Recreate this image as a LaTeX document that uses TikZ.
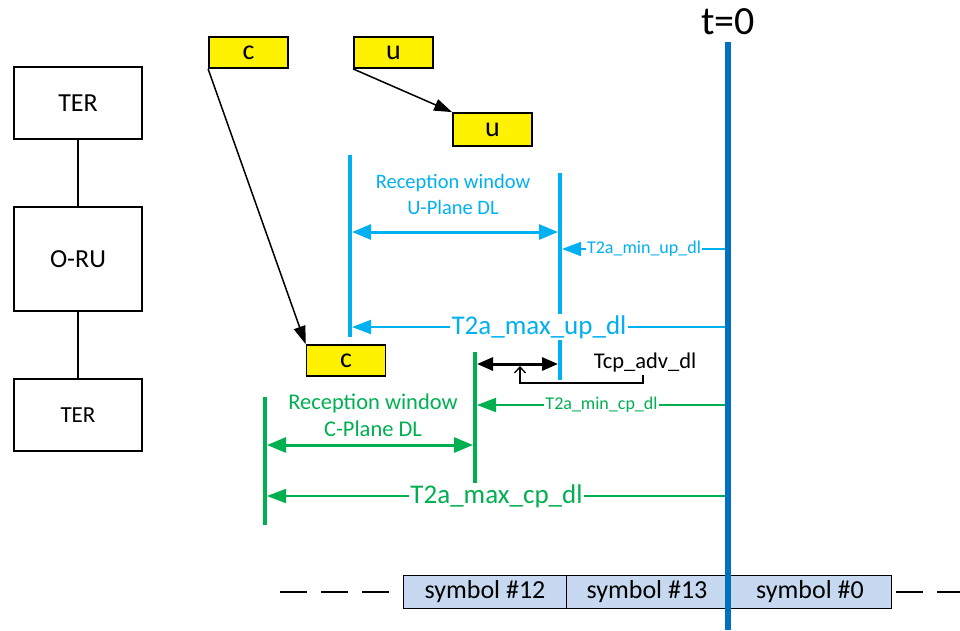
\documentclass[tikz,border=0pt]{standalone}
\usepackage{fontspec}
\setmainfont{Carlito}
\usetikzlibrary{arrows.meta}
\definecolor{ublue}{HTML}{00B0F0}
\definecolor{cgreen}{HTML}{00B050}
\definecolor{tblue}{HTML}{0070C0}
\definecolor{symfill}{HTML}{C6D9F1}
\newcommand{\fsz}[2]{\fontsize{#1}{#2}\selectfont}
\begin{document}
\begin{tikzpicture}[x=1pt,y=-1pt,
  blkbox/.style={draw, line width=1.8pt, minimum width=128pt, inner sep=0pt, font=\fsz{26}{30}},
  ybox/.style={draw, fill=yellow, line width=1.8pt, minimum width=79pt, minimum height=31pt, inner sep=0pt, font=\fsz{28}{30}},
  symbox/.style={draw, fill=symfill, line width=1.5pt, minimum height=33pt, inner sep=0pt, font=\fsz{26}{30}},
  vbar/.style={line width=4pt},
  spanarr/.style={line width=3pt, {Triangle[length=19pt,width=15pt]}-{Triangle[length=19pt,width=15pt]}},
  meas/.style={line width=2pt, -{Triangle[length=19pt,width=14pt]}},
  lab/.style={fill=white, inner sep=1.5pt},
  conn/.style={line width=1.5pt, -{Triangle[length=18pt,width=12pt]}}
]
\useasboundingbox (0,0) rectangle (960,630);

% left column
\node[blkbox, minimum height=72pt] (ter1) at (78,103) {TER};
\node[blkbox, minimum height=104pt] (oru) at (78,259) {O-RU};
\node[blkbox, minimum height=72pt, font=\fsz{23}{27}] (ter2) at (78,415) {TER};
\draw[line width=1.8pt] (ter1) -- (oru);
\draw[line width=1.8pt] (oru) -- (ter2);

% yellow boxes
\node[ybox] (c1) at (248.5,52.5) {c};
\node[ybox] (u1) at (393.5,52.5) {u};
\node[ybox, minimum height=33pt] (u2) at (492.5,129.5) {u};
\node[ybox] (c2) at (346,360.5) {c};
\draw[conn] (c1.south west) -- (c2.north west);
\draw[conn] (u1.south west) -- (u2.north west);

% coordinates
\coordinate (uLtop) at (350,155); \coordinate (uLbot) at (350,337);
\coordinate (uRtop) at (560,173); \coordinate (uRbot) at (560,380);
\coordinate (gRtop) at (475,352); \coordinate (gRbot) at (475,483);
\coordinate (gLtop) at (265,397); \coordinate (gLbot) at (265,525);
\coordinate (ttop) at (728,42); \coordinate (tbot) at (728,630);

% U-plane
\draw[vbar, ublue] (uLtop) -- (uLbot);
\draw[vbar, ublue] (uRtop) -- (uRbot);
\coordinate (uwL) at (352,232); \coordinate (uwR) at (558,232);
\draw[spanarr, ublue] (uwL) -- (uwR);
\node[font=\fsz{20.5}{26}, text=ublue, align=center] (uwin) at (453,194) {Reception window\\U-Plane DL};
\coordinate (tmu) at (726,249); \coordinate (umu) at (562,249);
\draw[meas, ublue] (tmu) -- node[lab, font=\fsz{18}{20}, text=ublue] (lminup) {T2a\_min\_up\_dl} (umu);
\coordinate (tMu) at (726,327); \coordinate (uMu) at (352,327);
\draw[meas, ublue] (tMu) -- node[lab, font=\fsz{27}{30}, text=ublue] (lmaxup) {T2a\_max\_up\_dl} (uMu);

% C-plane
\draw[vbar, cgreen] (gRtop) -- (gRbot);
\draw[vbar, cgreen] (gLtop) -- (gLbot);
\coordinate (cwL) at (267,445); \coordinate (cwR) at (473,445);
\draw[spanarr, cgreen] (cwL) -- (cwR);
\node[font=\fsz{22.5}{27}, text=cgreen, align=center] (cwin) at (373,415) {Reception window\\C-Plane DL};
\coordinate (tmc) at (726,405); \coordinate (cmc) at (477,405);
\draw[meas, cgreen] (tmc) -- node[lab, font=\fsz{18}{20}, text=cgreen] (lmincp) {T2a\_min\_cp\_dl} (cmc);
\coordinate (tMc) at (726,496); \coordinate (cMc) at (267,496);
\draw[meas, cgreen] (tMc) -- node[lab, font=\fsz{27}{30}, text=cgreen] (lmaxcp) {T2a\_max\_cp\_dl} (cMc);

% Tcp_adv_dl
\coordinate (tcL) at (477,364); \coordinate (tcR) at (558,364);
\draw[line width=3pt, {Triangle[length=16pt,width=13pt]}-{Triangle[length=16pt,width=13pt]}] (tcL) -- (tcR);
\node[font=\fsz{22.5}{26}] (tcp) at (645,362) {Tcp\_adv\_dl};
\coordinate (bk1) at (643,375); \coordinate (bk2) at (643,383);
\coordinate (bk3) at (520,383); \coordinate (bk4) at (520,366);
\draw[line width=1.3pt, -{Straight Barb[length=6pt,width=11pt]}] (bk1) -- (bk2) -- (bk3) -- (bk4);

% symbols
\node[symbox, minimum width=163pt] (s12) at (485,592) {symbol \#12};
\node[symbox, minimum width=161pt] (s13) at (647,592) {symbol \#13};
\node[symbox, minimum width=163pt] (s0) at (810,592) {symbol \#0};
\coordinate (dl1) at (280,592); \coordinate (dl2) at (390,592);
\coordinate (dr1) at (896,592); \coordinate (dr2) at (960,592);
\draw[line width=2pt, dash pattern=on 27pt off 14pt] (dl1) -- (dl2);
\draw[line width=2pt, dash pattern=on 27pt off 14pt] (dr1) -- (dr2);

% t=0 line
\draw[line width=6pt, tblue] (ttop) -- (tbot);
\node[font=\fsz{40}{44}] (t0) at (728,22) {t=0};
\end{tikzpicture}
\end{document}
